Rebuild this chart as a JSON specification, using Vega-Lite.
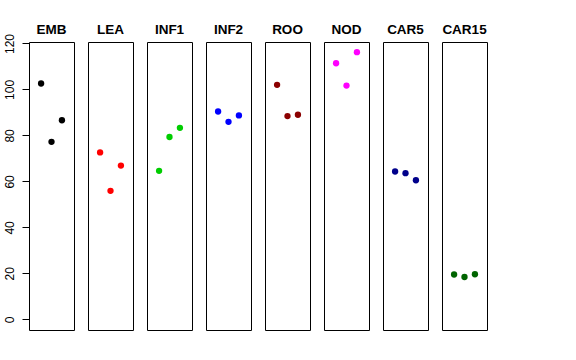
{
  "$schema": "https://vega.github.io/schema/vega-lite/v6.json",
  "padding": {"left": 3, "top": 22, "right": 5, "bottom": 5},
  "background": "white",
  "bounds": "flush",
  "data": {"values": [
    {"panel": "EMB", "idx": 1, "value": 102.6},
    {"panel": "EMB", "idx": 2, "value": 77.2},
    {"panel": "EMB", "idx": 3, "value": 86.6},
    {"panel": "LEA", "idx": 1, "value": 72.6},
    {"panel": "LEA", "idx": 2, "value": 55.9},
    {"panel": "LEA", "idx": 3, "value": 66.9},
    {"panel": "INF1", "idx": 1, "value": 64.6},
    {"panel": "INF1", "idx": 2, "value": 79.3},
    {"panel": "INF1", "idx": 3, "value": 83.3},
    {"panel": "INF2", "idx": 1, "value": 90.4},
    {"panel": "INF2", "idx": 2, "value": 85.9},
    {"panel": "INF2", "idx": 3, "value": 88.7},
    {"panel": "ROO", "idx": 1, "value": 102.0},
    {"panel": "ROO", "idx": 2, "value": 88.4},
    {"panel": "ROO", "idx": 3, "value": 89.0},
    {"panel": "NOD", "idx": 1, "value": 111.4},
    {"panel": "NOD", "idx": 2, "value": 101.7},
    {"panel": "NOD", "idx": 3, "value": 116.2},
    {"panel": "CAR5", "idx": 1, "value": 64.3},
    {"panel": "CAR5", "idx": 2, "value": 63.6},
    {"panel": "CAR5", "idx": 3, "value": 60.5},
    {"panel": "CAR15", "idx": 1, "value": 19.5},
    {"panel": "CAR15", "idx": 2, "value": 18.4},
    {"panel": "CAR15", "idx": 3, "value": 19.6}
  ]},
  "facet": {
    "column": {
      "field": "panel",
      "type": "nominal",
      "sort": ["EMB", "LEA", "INF1", "INF2", "ROO", "NOD", "CAR5", "CAR15"],
      "header": {
        "title": null,
        "labelFont": "Liberation Sans",
        "labelFontWeight": "bold",
        "labelFontSize": 13.5,
        "labelColor": "black",
        "labelPadding": 6
      }
    }
  },
  "spacing": 14,
  "spec": {
    "width": 45,
    "height": 288,
    "mark": {"type": "circle", "size": 40, "opacity": 1},
    "encoding": {
      "x": {"field": "idx", "type": "quantitative", "scale": {"domain": [-0.16, 4.16], "nice": false, "zero": false}, "axis": null},
      "y": {
        "field": "value", "type": "quantitative",
        "scale": {"domain": [-4.64, 120.64], "nice": false, "zero": false},
        "axis": {
          "title": null, "grid": false, "domain": false,
          "values": [0, 20, 40, 60, 80, 100, 120],
          "tickColor": "black", "tickSize": 7,
          "labelAngle": -90, "labelAlign": "center", "labelBaseline": "bottom",
          "labelPadding": 6, "labelFont": "Liberation Sans", "labelFontSize": 12, "labelColor": "black"
        }
      },
      "color": {
        "field": "panel", "type": "nominal",
        "scale": {
          "domain": ["EMB", "LEA", "INF1", "INF2", "ROO", "NOD", "CAR5", "CAR15"],
          "range": ["#000000", "#FF0000", "#00CD00", "#0000FF", "#8B0000", "#FF00FF", "#00008B", "#006400"]
        },
        "legend": null
      }
    }
  },
  "config": {
    "view": {"stroke": "black", "strokeWidth": 1}
  }
}
